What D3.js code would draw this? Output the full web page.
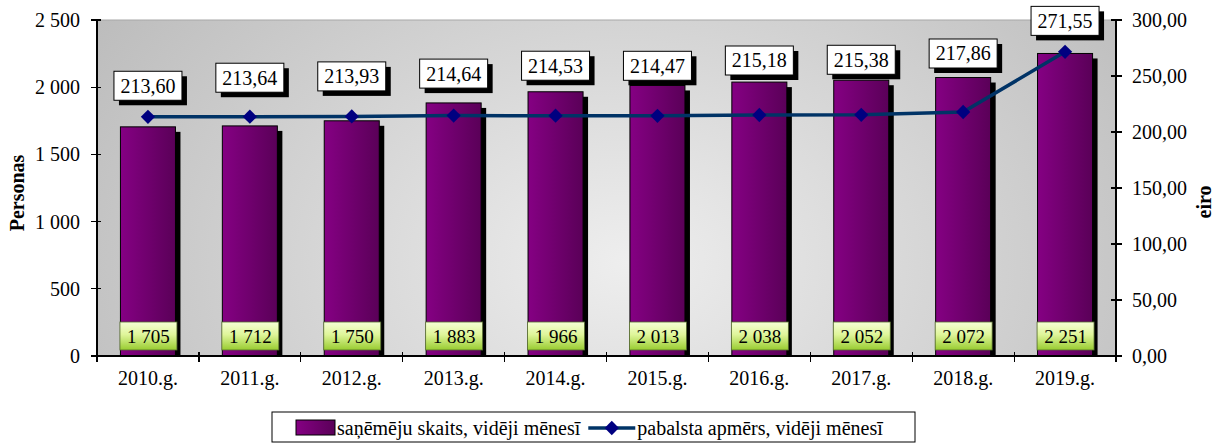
<!DOCTYPE html>
<html><head><meta charset="utf-8">
<script src="https://cdn.jsdelivr.net/npm/d3@7/dist/d3.min.js"></script>
<style>
html,body{margin:0;padding:0;background:#fff;}
svg{display:block;}
svg text{font-family:"Liberation Serif","DejaVu Serif",serif;}
</style></head>
<body>
<svg id="chart" width="1214" height="443" font-family="Liberation Serif, DejaVu Serif, serif"></svg>
<script>
const years = ["2010.g.","2011.g.","2012.g.","2013.g.","2014.g.","2015.g.","2016.g.","2017.g.","2018.g.","2019.g."];
const recipients = [1705,1712,1750,1883,1966,2013,2038,2052,2072,2251];
const benefit = [213.60,213.64,213.93,214.64,214.53,214.47,215.18,215.38,217.86,271.55];
const leftTicks = [0,500,1000,1500,2000,2500];
const rightTicks = [0,50,100,150,200,250,300];
const seriesNames = ["saņēmēju skaits, vidēji mēnesī","pabalsta apmērs, vidēji mēnesī"];
const axisTitles = ["Personas","eiro"];
// manual label placement (pixels above the line point), as in the original chart
const lineLabelLift = [31,39,40,42,50,50,54.5,55,58.5,31];

const loc = d3.formatLocale({decimal:",",thousands:" ",grouping:[3],currency:["",""]});
const fmtL = loc.format(",.0f"), fmtR = loc.format(",.2f");

const svg = d3.select("#chart");
const L=97, R=1116, T=20, B=356;
const x = d3.scaleBand().domain(years).range([L,R]).paddingInner(0.46).paddingOuter(0.23);
const yL = d3.scaleLinear().domain([0,2500]).range([B,T]);
const yR = d3.scaleLinear().domain([0,300]).range([B,T]);

const defs = svg.append("defs");
const bg = defs.append("radialGradient").attr("id","bg").attr("cx","0.52").attr("cy","0.72").attr("r","0.62")
  .attr("gradientTransform","translate(0.52,0.72) scale(1,2.2) translate(-0.52,-0.72)");
bg.append("stop").attr("offset","0").attr("stop-color","#eeeeee");
bg.append("stop").attr("offset","1").attr("stop-color","#bcbcbc");
const bar = defs.append("linearGradient").attr("id","bar").attr("x1","0").attr("x2","1");
bar.append("stop").attr("offset","0").attr("stop-color","#850083");
bar.append("stop").attr("offset","1").attr("stop-color","#5a0058");
const grn = defs.append("linearGradient").attr("id","grn").attr("x1","0").attr("x2","0").attr("y1","0").attr("y2","1");
grn.append("stop").attr("offset","0").attr("stop-color","#f6ffd6");
grn.append("stop").attr("offset","0.45").attr("stop-color","#dff59a");
grn.append("stop").attr("offset","1").attr("stop-color","#98cc30");

svg.append("rect").attr("x",L).attr("y",T).attr("width",R-L).attr("height",B-T)
  .attr("fill","url(#bg)").attr("stroke","#a8a8a8").attr("stroke-width",1);

const g = svg.append("g");
g.selectAll(".sh").data(recipients).join("rect")
  .attr("x",(d,i)=>x(years[i])+5).attr("y",d=>yL(d)+5)
  .attr("width",x.bandwidth()).attr("height",d=>B-yL(d)-5).attr("fill","#000");
g.selectAll(".bar").data(recipients).join("rect")
  .attr("x",(d,i)=>x(years[i])).attr("y",d=>yL(d))
  .attr("width",x.bandwidth()).attr("height",d=>B-yL(d))
  .attr("fill","url(#bar)").attr("stroke","#000").attr("stroke-width",1);

const ax = svg.append("g").attr("stroke","#000").attr("stroke-width",1.2).attr("shape-rendering","crispEdges");
ax.append("line").attr("x1",L).attr("x2",L).attr("y1",T).attr("y2",B);
ax.append("line").attr("x1",R).attr("x2",R).attr("y1",T).attr("y2",B);
ax.append("line").attr("x1",L).attr("x2",R).attr("y1",B).attr("y2",B);
leftTicks.forEach(t=>ax.append("line").attr("x1",L-6).attr("x2",L+4).attr("y1",yL(t)).attr("y2",yL(t)));
rightTicks.forEach(t=>ax.append("line").attr("x1",R-5).attr("x2",R+6).attr("y1",yR(t)).attr("y2",yR(t)));
const step = x.step();
for(let i=0;i<=years.length;i++){
  const xx = L + i*step;
  ax.append("line").attr("x1",xx).attr("x2",xx).attr("y1",B-4).attr("y2",B+6);
}

svg.append("g").selectAll("text").data(leftTicks).join("text")
  .attr("x",80).attr("y",d=>yL(d)).attr("dy","0.35em").attr("text-anchor","end")
  .attr("font-size",20).text(d=>fmtL(d));
svg.append("g").selectAll("text").data(rightTicks).join("text")
  .attr("x",1132).attr("y",d=>yR(d)).attr("dy","0.35em").attr("text-anchor","start")
  .attr("font-size",20).text(d=>fmtR(d));
svg.append("g").selectAll("text").data(years).join("text")
  .attr("x",d=>x(d)+x.bandwidth()/2).attr("y",385).attr("text-anchor","middle")
  .attr("font-size",20).text(d=>d);

svg.append("text").attr("transform","translate(24,193) rotate(-90)").attr("text-anchor","middle")
  .attr("font-size",20).attr("font-weight","bold").text(axisTitles[0]);
svg.append("text").attr("transform","translate(1211,202) rotate(-90)").attr("text-anchor","middle")
  .attr("font-size",20).attr("font-weight","bold").text(axisTitles[1]);

const bl = svg.append("g");
recipients.forEach((d,i)=>{
  const cx = x(years[i])+x.bandwidth()/2;
  bl.append("rect").attr("x",cx-28).attr("y",322).attr("width",57).attr("height",28)
    .attr("fill","url(#grn)").attr("stroke","#556b2f").attr("stroke-width",0.8);
  bl.append("text").attr("x",cx+0.5).attr("y",336).attr("dy","0.35em").attr("text-anchor","middle")
    .attr("font-size",19).text(fmtL(d));
});

const px = (d,i)=>x(years[i])+x.bandwidth()/2;
svg.append("path").datum(benefit)
  .attr("d",d3.line().x(px).y(d=>yR(d)))
  .attr("fill","none").attr("stroke","#003366").attr("stroke-width",3.5);
svg.append("g").selectAll("path").data(benefit).join("path")
  .attr("d",d3.symbol().type(d3.symbolDiamond2).size(130))
  .attr("transform",(d,i)=>`translate(${px(d,i)},${yR(d)})`)
  .attr("fill","#000080");

const ll = svg.append("g");
benefit.forEach((d,i)=>{
  const cx = px(d,i), cy = yR(d)-lineLabelLift[i];
  const w=68, h=29;
  ll.append("rect").attr("x",cx-w/2+5).attr("y",cy-h/2+5).attr("width",w).attr("height",h).attr("fill","#000");
  ll.append("rect").attr("x",cx-w/2).attr("y",cy-h/2).attr("width",w).attr("height",h)
    .attr("fill","#fff").attr("stroke","#000").attr("stroke-width",1);
  ll.append("text").attr("x",cx).attr("y",cy).attr("dy","0.35em").attr("text-anchor","middle")
    .attr("font-size",20).text(fmtR(d));
});

const lg = svg.append("g");
lg.append("rect").attr("x",272).attr("y",412).attr("width",643).attr("height",30)
  .attr("fill","#fff").attr("stroke","#000").attr("stroke-width",1);
lg.append("rect").attr("x",296).attr("y",420).attr("width",39).attr("height",15)
  .attr("fill","url(#bar)").attr("stroke","#000").attr("stroke-width",1);
const t1 = lg.append("text").attr("x",337).attr("y",428).attr("dy","0.35em").attr("font-size",20).text(seriesNames[0]);
const e1 = 337 + t1.node().getComputedTextLength();
const lx = Math.max(e1 + 8, 585);
lg.append("line").attr("x1",lx).attr("x2",lx+47).attr("y1",428).attr("y2",428)
  .attr("stroke","#003366").attr("stroke-width",3.5);
lg.append("path").attr("d",d3.symbol().type(d3.symbolDiamond2).size(130)())
  .attr("transform",`translate(${lx+23.5},428)`).attr("fill","#000080");
lg.append("text").attr("x",lx+49).attr("y",428).attr("dy","0.35em").attr("font-size",20).text(seriesNames[1]);
</script>
</body></html>
